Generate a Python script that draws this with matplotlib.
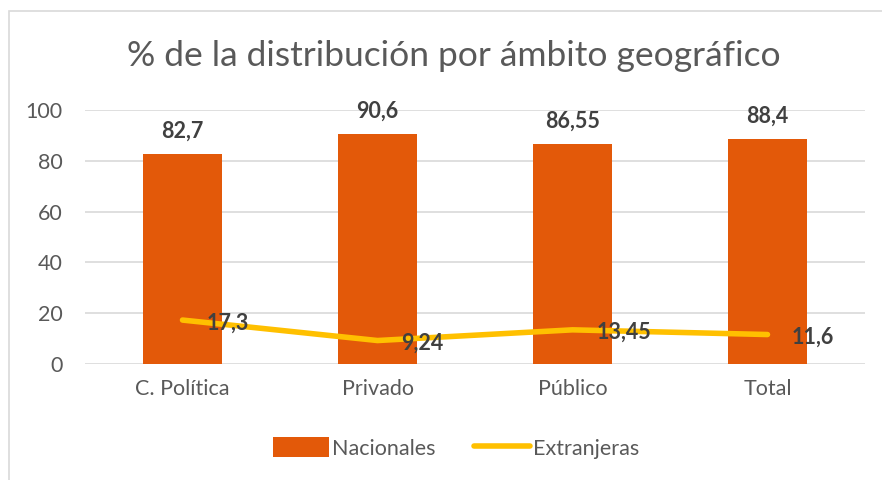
import matplotlib.pyplot as plt
import numpy as np
from matplotlib.patches import Rectangle

plt.rcParams['font.family'] = ['Lato', 'DejaVu Sans']

categorias = ['C. Política', 'Privado', 'Público', 'Total']
nacionales = [82.7, 90.6, 86.55, 88.4]
extranjeras = [17.3, 9.24, 13.45, 11.6]
etq_nac = ['82,7', '90,6', '86,55', '88,4']
etq_ext = ['17,3', '9,24', '13,45', '11,6']

naranja = '#E35909'
amarillo = '#FFC000'
gris = '#595959'

fig = plt.figure(figsize=(8.82, 4.8), dpi=100)
ax = fig.add_axes([85/882, 1-364/480, 780/882, 254/480])

# borde del grafico
fig.patches.append(Rectangle((9/882, -0.1), 1.2, 1-11/480+0.1, transform=fig.transFigure,
                             fill=False, edgecolor='#d9d9d9', linewidth=1.2))

x = np.arange(len(categorias))
barras = ax.bar(x, nacionales, width=0.41, color=naranja, label='Nacionales', zorder=2)
linea, = ax.plot(x, extranjeras, color=amarillo, linewidth=4, solid_capstyle='round', label='Extranjeras', zorder=3)

for i in range(len(x)):
    ax.annotate(etq_nac[i], (x[i], nacionales[i]), xytext=(0, 9), textcoords='offset points',
                ha='center', va='bottom', fontsize=15.5, fontweight='bold', color='#404040')
    ax.annotate(etq_ext[i], (x[i], extranjeras[i]), xytext=(17, -2), textcoords='offset points',
                ha='left', va='center', fontsize=15.5, fontweight='bold', color='#404040', zorder=4)

ax.set_xlim(-0.5, 3.5)
ax.set_ylim(0, 100)
ax.set_yticks([0, 20, 40, 60, 80, 100])
ax.set_xticks(x)
ax.set_xticklabels(categorias)
ax.tick_params(axis='both', length=0, labelsize=15.5, labelcolor=gris)
ax.tick_params(axis='x', pad=11)
ax.tick_params(axis='y', pad=16)
ax.grid(axis='y', color='#d9d9d9', linewidth=1.2, zorder=0)
ax.set_axisbelow(True)
for s in ax.spines.values():
    s.set_visible(False)

fig.text(0.515, 1-56/480, '% de la distribución por ámbito geográfico', ha='center', va='center',
         fontsize=25.5, color=gris)

fig.legend([barras, linea], ['Nacionales', 'Extranjeras'], loc='center',
           bbox_to_anchor=(0.517, 1-448/480), ncol=2, frameon=False,
           fontsize=15.5, labelcolor=gris, handlelength=2.6, handleheight=1.0,
           columnspacing=1.8, handletextpad=0.15)

fig.savefig('out.png', dpi=100)
